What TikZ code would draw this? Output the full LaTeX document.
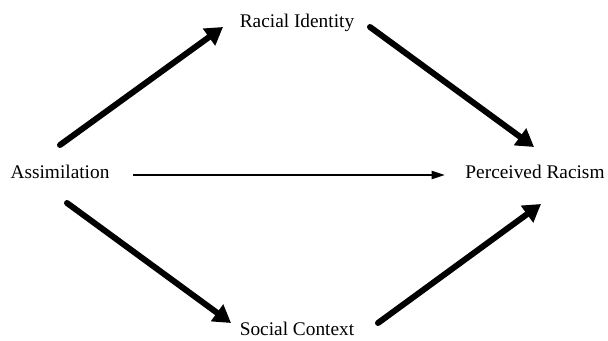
\documentclass[tikz,border=0pt]{standalone}
\usepackage{fontspec}
\setmainfont{Liberation Serif}
\usetikzlibrary{arrows.meta,calc}

\begin{document}
\begin{tikzpicture}[
    x=0.75pt, y=-0.75pt,
    var/.style={font=\fontsize{14.5}{17}\selectfont, inner sep=0pt},
    strong/.style={line width=4.5pt, line cap=round, -{Triangle[length=13pt,width=15pt]}},
    direct/.style={line width=1.5pt, -{Triangle[length=10pt,width=6pt]}}
]
\useasboundingbox (0,0) rectangle (608,341);

% Variables
\node[var] (assim) at (60,172) {Assimilation};
\node[var] (ri) at (297,23) {Racial Identity};
\node[var] (pr) at (535,172) {Perceived Racism};
\node[var] (sc) at (297,329) {Social Context};

% Paths through racial identity
\draw[strong] ($(assim)+(0,-27)$) -- ($(ri)+(-74,4)$);
\draw[strong] ($(ri)+(73,4)$) -- ($(pr)+(-1,-25)$);

% Direct path
\draw[direct] ($(assim)+(73,3)$) -- ($(pr)+(-90,3)$);

% Paths through social context
\draw[strong] ($(assim)+(7,31)$) -- ($(sc)+(-66,-6)$);
\draw[strong] ($(sc)+(81,-6)$) -- ($(pr)+(6,32)$);

\end{tikzpicture}
\end{document}
